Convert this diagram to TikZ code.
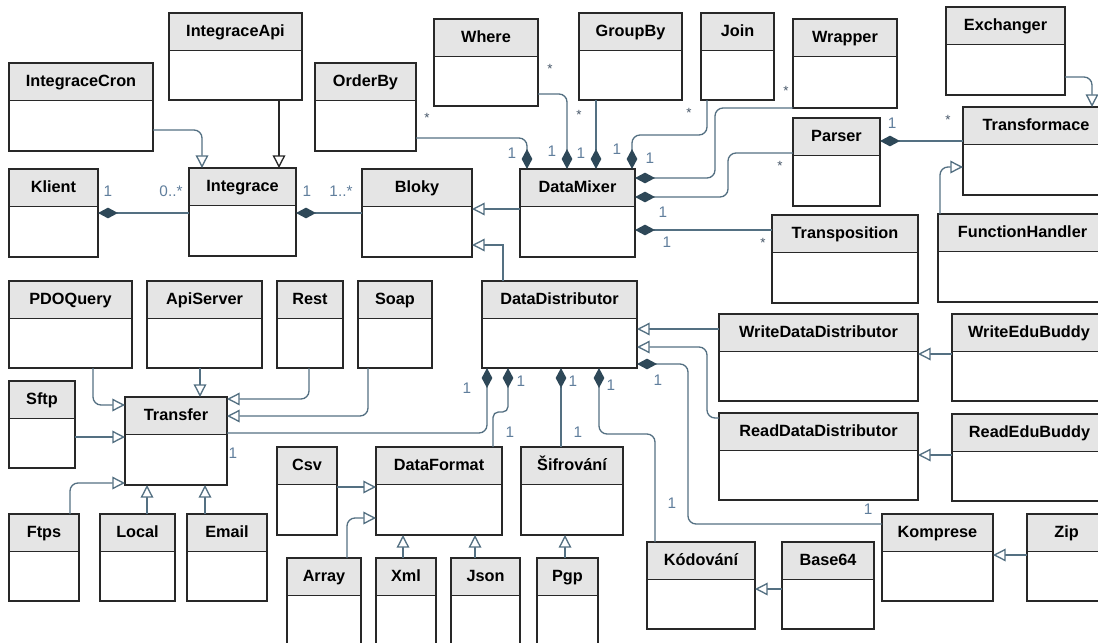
\documentclass[tikz,border=0pt]{standalone}
\usepackage{fontspec}
\setmainfont{Liberation Sans}
\usetikzlibrary{arrows.meta}

\definecolor{linec}{RGB}{84,112,130}
\definecolor{diamc}{RGB}{46,72,88}
\definecolor{boxc}{RGB}{40,40,40}
\definecolor{hdrc}{RGB}{229,229,229}
\definecolor{multc}{RGB}{96,126,156}
\definecolor{starc}{RGB}{70,86,104}

\tikzset{
  boxshape/.style={rectangle, inner sep=0pt, outer sep=0pt},
  boxline/.style={draw=boxc, line width=1.1pt},
  hdrfill/.style={fill=hdrc},
  classname/.style={font=\bfseries\fontsize{12.2}{14}\selectfont, text=black, inner sep=0pt, anchor=base},
  conn/.style={draw=linec, line width=1pt, rounded corners=6pt},
  gen/.style={conn, -{Triangle[length=9.5pt, width=9.5pt, fill=white]}},
  comp/.style={conn, {Diamond[length=15pt, width=8pt, color=diamc]}-},
  mult/.style={font=\fontsize{11.5}{13}\selectfont, text=multc, inner sep=0pt},
  many/.style={font=\fontsize{10}{12}\selectfont, text=starc, inner sep=0pt},
}

% class box: name, x1, y1, x2, y2, title (coordinates in px, y downwards)
\newcommand\umlclass[6]{%
  \pgfmathsetmacro\ucw{(#4-#2)*0.75}%
  \pgfmathsetmacro\uch{(#5-#3)*0.75}%
  \pgfmathsetmacro\ucm{(#2+#4)/2}%
  \pgfmathsetmacro\uchd{#3+37.5}%
  \pgfmathsetmacro\ucty{#3+23.5}%
  \node[boxshape, minimum width=\ucw pt, minimum height=\uch pt, anchor=north west] (#1) at (#2,#3) {};
  \fill[hdrfill] (#2,#3) rectangle (#4,\uchd);
  \draw[boxline] (#2,\uchd) -- (#4,\uchd);
  \draw[boxline] (#1.north west) rectangle (#1.south east);
  \node[classname] (#1-t) at (\ucm,\ucty) {#6};
}

\begin{document}
\begin{tikzpicture}[x=0.75pt, y=-0.75pt]
\useasboundingbox (0,0) rectangle (1098,642);
\clip (0,0) rectangle (1098,642);

% ---------- classes ----------
\umlclass{IntegraceApi}{169}{13}{302}{100}{IntegraceApi}
\umlclass{IntegraceCron}{9}{63}{153}{151}{IntegraceCron}
\umlclass{Klient}{9}{169}{98}{257}{Klient}
\umlclass{Integrace}{189}{168}{296}{256}{Integrace}
\umlclass{OrderBy}{315}{63}{416}{151}{OrderBy}
\umlclass{Where}{434}{19}{538}{106}{Where}
\umlclass{GroupBy}{579}{13}{682}{100}{GroupBy}
\umlclass{Join}{701}{13}{774}{100}{Join}
\umlclass{Wrapper}{793}{19}{897}{108}{Wrapper}
\umlclass{Exchanger}{946}{7}{1065}{95}{Exchanger}
\umlclass{Bloky}{362}{169}{472}{257}{Bloky}
\umlclass{DataMixer}{520}{169}{635}{257}{DataMixer}
\umlclass{Parser}{793}{118}{880}{206}{Parser}
\umlclass{Transformace}{963}{107}{1109}{195}{Transformace}
\umlclass{Transposition}{772}{215}{918}{303}{Transposition}
\umlclass{FunctionHandler}{938}{214}{1107}{302}{FunctionHandler}
\umlclass{PDOQuery}{9}{281}{132}{368}{PDOQuery}
\umlclass{ApiServer}{147}{281}{262}{368}{ApiServer}
\umlclass{Rest}{277}{281}{343}{368}{Rest}
\umlclass{Soap}{358}{281}{432}{368}{Soap}
\umlclass{DataDistributor}{482}{281}{637}{368}{DataDistributor}
\umlclass{Sftp}{9}{381}{75}{468}{Sftp}
\umlclass{Transfer}{125}{397}{227}{485}{Transfer}
\umlclass{WriteDataDistributor}{719}{314}{918}{401}{WriteDataDistributor}
\umlclass{WriteEduBuddy}{952}{314}{1106}{401}{WriteEduBuddy}
\umlclass{ReadDataDistributor}{719}{413}{918}{500}{ReadDataDistributor}
\umlclass{ReadEduBuddy}{952}{414}{1107}{501}{ReadEduBuddy}
\umlclass{Csv}{277}{447}{337}{535}{Csv}
\umlclass{DataFormat}{376}{447}{502}{535}{DataFormat}
\umlclass{Sifrovani}{521}{447}{623}{535}{Šifrování}
\umlclass{Ftps}{9}{514}{79}{601}{Ftps}
\umlclass{Local}{100}{514}{175}{601}{Local}
\umlclass{Email}{187}{514}{267}{601}{Email}
\umlclass{Komprese}{882}{514}{993}{601}{Komprese}
\umlclass{Zip}{1027}{514}{1106}{601}{Zip}
\umlclass{Kodovani}{647}{542}{755}{629}{Kódování}
\umlclass{Base64}{782}{542}{874}{629}{Base64}
\umlclass{Array}{287}{558}{361}{646}{Array}
\umlclass{Xml}{376}{558}{436}{646}{Xml}
\umlclass{Json}{451}{558}{520}{646}{Json}
\umlclass{Pgp}{537}{558}{598}{646}{Pgp}

% ---------- generalizations ----------
\draw[gen] (IntegraceCron.east |- 0,130) -| (Integrace.north -| 202,0);
\draw[gen, draw=boxc] (IntegraceApi.south -| 279,0) -- (Integrace.north -| 279,0);
\draw[gen] (DataMixer.west |- 0,209) -- (Bloky.east |- 0,209);
\draw[gen, rounded corners=0pt] (DataDistributor.north -| 503,0) |- (Bloky.east |- 0,245);
\draw[gen] (Exchanger.east |- 0,77) -| (Transformace.north -| 1092,0);
\draw[gen] (FunctionHandler.north -| 940,0) |- (Transformace.west |- 0,167);
\draw[gen] (PDOQuery.south -| 93,0) |- (Transfer.west |- 0,405);
\draw[gen] (ApiServer.south -| 200,0) -- (Transfer.north -| 200,0);
\draw[gen] (Rest.south -| 309,0) |- (Transfer.east |- 0,399);
\draw[gen] (Soap.south -| 368,0) |- (Transfer.east |- 0,416);
\draw[gen] (Sftp.east |- 0,437) -- (Transfer.west |- 0,437);
\draw[gen] (Ftps.north -| 70,0) |- (Transfer.west |- 0,483);
\draw[gen] (Local.north -| 147,0) -- (Transfer.south -| 147,0);
\draw[gen] (Email.north -| 205,0) -- (Transfer.south -| 205,0);
\draw[gen] (WriteDataDistributor.west |- 0,329) -- (DataDistributor.east |- 0,329);
\draw[gen] (ReadDataDistributor.west |- 0,418) -- (707,418) -- (707,347) -- (DataDistributor.east |- 0,347);
\draw[gen] (WriteEduBuddy.west |- 0,354) -- (WriteDataDistributor.east |- 0,354);
\draw[gen] (ReadEduBuddy.west |- 0,455) -- (ReadDataDistributor.east |- 0,455);
\draw[gen] (Zip.west |- 0,555) -- (Komprese.east |- 0,555);
\draw[gen] (Base64.west |- 0,589) -- (Kodovani.east |- 0,589);
\draw[gen] (Csv.east |- 0,487) -- (DataFormat.west |- 0,487);
\draw[gen] (Array.north -| 347,0) |- (DataFormat.west |- 0,518);
\draw[gen] (Xml.north -| 403,0) -- (DataFormat.south -| 403,0);
\draw[gen] (Json.north -| 475,0) -- (DataFormat.south -| 475,0);
\draw[gen] (Pgp.north -| 565,0) -- (Sifrovani.south -| 565,0);

% ---------- compositions ----------
\draw[comp] (Klient.east |- 0,213) -- (Integrace.west |- 0,213);
\draw[comp] (Integrace.east |- 0,213) -- (Bloky.west |- 0,213);
\draw[comp] (DataMixer.north -| 527,0) |- (OrderBy.east |- 0,138);
\draw[comp] (DataMixer.north -| 567,0) |- (Where.east |- 0,94);
\draw[comp] (DataMixer.north -| 596,0) -- (GroupBy.south -| 596,0);
\draw[comp] (DataMixer.north -| 632,0) -- (632,135) -- (707,135) -- (Join.south -| 707,0);
\draw[comp] (DataMixer.east |- 0,178) -- (715,178) -- (715,108) -- (Wrapper.west |- 0,108);
\draw[comp] (DataMixer.east |- 0,197) -- (728,197) -- (728,153) -- (Parser.west |- 0,153);
\draw[comp] (DataMixer.east |- 0,230) -- (Transposition.west |- 0,230);
\draw[comp] (Parser.east |- 0,141) -- (Transformace.west |- 0,141);
\draw[comp] (DataDistributor.south -| 487,0) |- (Transfer.east |- 0,433);
\draw[comp, rounded corners=4pt] (DataDistributor.south -| 508,0) -- (508,412) -- (493,412) -- (DataFormat.north -| 493,0);
\draw[comp] (DataDistributor.south -| 561,0) -- (Sifrovani.north -| 561,0);
\draw[comp] (DataDistributor.south -| 599,0) -- (599,434) -- (655,434) -- (Kodovani.north -| 655,0);
\draw[comp] (DataDistributor.east |- 0,364) -- (688,364) -- (688,524) -- (Komprese.west |- 0,524);

% ---------- multiplicities ----------
\node[mult] (m1) at (108,191) {1};
\node[mult] (m2) at (171,191) {0..*};
\node[mult] (m3) at (307,191) {1};
\node[mult] (m4) at (341,191) {1..*};
\node[many] (m5) at (427,118) {*};
\node[mult] (m6) at (512,153) {1};
\node[many] (m7) at (550,69) {*};
\node[mult] (m8) at (552,151) {1};
\node[many] (m9) at (579,115) {*};
\node[mult] (m10) at (581,153) {1};
\node[many] (m11) at (689,113) {*};
\node[mult] (m12) at (617,149) {1};
\node[many] (m13) at (786,91) {*};
\node[mult] (m14) at (650,158) {1};
\node[many] (m15) at (780,166) {*};
\node[mult] (m16) at (663,212) {1};
\node[many] (m17) at (763,243) {*};
\node[mult] (m18) at (667,242) {1};
\node[mult] (m19) at (892,123) {1};
\node[many] (m20) at (948,120) {*};
\node[mult] (m21) at (233,453) {1};
\node[mult] (m22) at (467,388) {1};
\node[mult] (m23) at (521,381) {1};
\node[mult] (m24) at (510,432) {1};
\node[mult] (m25) at (573,381) {1};
\node[mult] (m26) at (578,432) {1};
\node[mult] (m27) at (611,385) {1};
\node[mult] (m28) at (672,503) {1};
\node[mult] (m29) at (658,380) {1};
\node[mult] (m30) at (868,509) {1};
\end{tikzpicture}
\end{document}
